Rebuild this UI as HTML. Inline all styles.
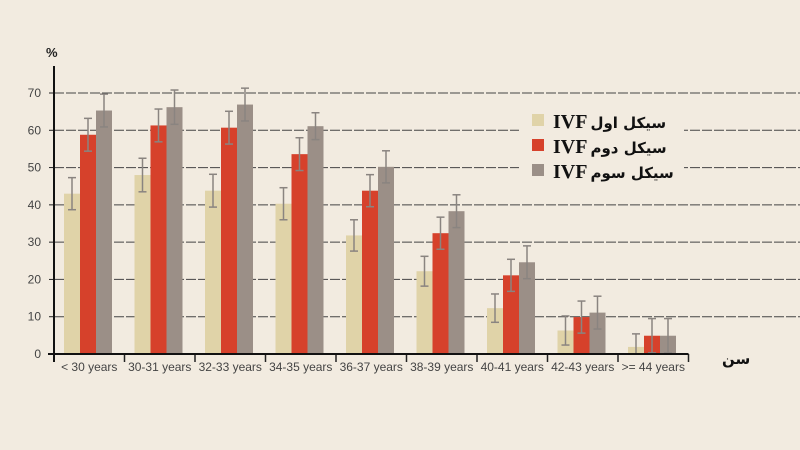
<!DOCTYPE html>
<html><head><meta charset="utf-8">
<style>
html,body{margin:0;padding:0;background:#f2ebe0;}
svg{display:block;font-family:"Liberation Sans",sans-serif;}
</style></head>
<body>
<svg id="chart" width="800" height="450" viewBox="0 0 800 450" xmlns="http://www.w3.org/2000/svg">
<rect x="0" y="0" width="800" height="450" fill="#f2ebe0"/>
<g id="grid"></g>
<g id="bars"></g>
<g id="axes"></g>
<g id="legend">
  <rect x="519" y="102" width="165" height="80" fill="#f2ebe0"/>
  <rect x="532" y="114" width="12" height="12" fill="#e0d3a8"/>
  <rect x="532" y="139" width="12" height="12" fill="#d6412b"/>
  <rect x="532" y="164" width="12" height="12" fill="#9b8f87"/>
  <text x="553" y="128" font-size="20" font-weight="bold" fill="#111"><tspan font-family="Liberation Serif, serif">IVF</tspan><tspan dx="3" font-family="DejaVu Sans, sans-serif" font-size="15">سیکل اول</tspan></text>
  <text x="553" y="153" font-size="20" font-weight="bold" fill="#111"><tspan font-family="Liberation Serif, serif">IVF</tspan><tspan dx="3" font-family="DejaVu Sans, sans-serif" font-size="15">سیکل دوم</tspan></text>
  <text x="553" y="178" font-size="20" font-weight="bold" fill="#111"><tspan font-family="Liberation Serif, serif">IVF</tspan><tspan dx="3" font-family="DejaVu Sans, sans-serif" font-size="15">سیکل سوم</tspan></text>
</g>
<text x="46" y="57" font-size="13" font-weight="bold" fill="#222">%</text>
<text x="722" y="364" font-size="15" font-weight="bold" font-family="DejaVu Sans, sans-serif" fill="#111">سن</text>
</svg>
<script>
const categories = ["< 30 years","30-31 years","32-33 years","34-35 years","36-37 years","38-39 years","40-41 years","42-43 years",">= 44 years"];
const firstCycle = [43, 48, 43.8, 40.3, 31.8, 22.2, 12.3, 6.3, 1.9];
const secondCycle = [58.8, 61.3, 60.7, 53.6, 43.8, 32.4, 21.1, 9.9, 4.9];
const thirdCycle = [65.3, 66.2, 66.9, 61.1, 50.2, 38.3, 24.6, 11.1, 4.9];
const firstErr = [4.3, 4.5, 4.4, 4.3, 4.2, 4.0, 3.8, 3.9, 3.5];
const secondErr = [4.4, 4.4, 4.4, 4.4, 4.3, 4.3, 4.3, 4.3, 4.6];
const thirdErr = [4.4, 4.6, 4.4, 3.6, 4.3, 4.4, 4.4, 4.4, 4.6];
const yTicks = [0,10,20,30,40,50,60,70];

const NS="http://www.w3.org/2000/svg";
const x0=54, groupW=70.5, barW=16, y0=354, yMax=70, yTop=93;
function yScale(v){return y0-(v/yMax)*(y0-yTop);}
function xGroup(i){return x0+i*groupW;}
function mk(tag,attrs,parent){const e=document.createElementNS(NS,tag);for(const k in attrs)e.setAttribute(k,attrs[k]);parent.appendChild(e);return e;}
const grid=document.getElementById('grid'), bars=document.getElementById('bars'), axes=document.getElementById('axes');

yTicks.forEach(t=>{
  const y=yScale(t);
  if(t>0){
    const l=mk('line',{x1:x0,x2:800,y1:y,y2:y,stroke:'#444','stroke-width':1,'stroke-dasharray':'10 2'},grid);
    
    
  }
  const tk=mk('line',{x1:x0-5,x2:x0,y1:y,y2:y,stroke:'#222','stroke-width':1},axes);
  
  
  const tx=mk('text',{x:x0-13,y:y+4,'font-size':12,'text-anchor':'end',fill:'#444'},axes);
  tx.textContent=t;
  
  
});

const series=[[firstCycle,firstErr,'#e0d3a8','first'],[secondCycle,secondErr,'#d6412b','second'],[thirdCycle,thirdErr,'#9b8f87','third']];
categories.forEach((c,i)=>{
  series.forEach((s,j)=>{
    const v=s[0][i], e=s[1][i];
    const bx=xGroup(i)+10+j*barW;
    const r=mk('rect',{x:bx,y:yScale(v),width:barW,height:y0-yScale(v),fill:s[2]},bars);
    
    
    const cx=bx+barW/2, lo=Math.max(0,v-e), hi=v+e;
    const g=mk('g',{stroke:'#8a8480','stroke-width':1.5},bars);
    
    
    mk('line',{x1:cx,x2:cx,y1:yScale(lo),y2:yScale(hi)},g);
    mk('line',{x1:cx-4,x2:cx+4,y1:yScale(lo),y2:yScale(lo)},g);
    mk('line',{x1:cx-4,x2:cx+4,y1:yScale(hi),y2:yScale(hi)},g);
  });
  const lb=mk('text',{x:xGroup(i)+groupW/2,y:371,'font-size':12,'text-anchor':'middle',fill:'#444'},axes);
  lb.textContent=c;
  
  
});
for(let i=1;i<=categories.length;i++){
  const t=mk('line',{x1:xGroup(i),x2:xGroup(i),y1:y0,y2:y0+8,stroke:'#222','stroke-width':1.5},axes);
  
  
}
const ya=mk('line',{x1:x0,x2:x0,y1:66,y2:y0+8,stroke:'#111','stroke-width':2},axes);


const xa=mk('line',{x1:x0-6,x2:xGroup(categories.length),y1:y0,y2:y0,stroke:'#111','stroke-width':2},axes);


</script>
</body></html>
